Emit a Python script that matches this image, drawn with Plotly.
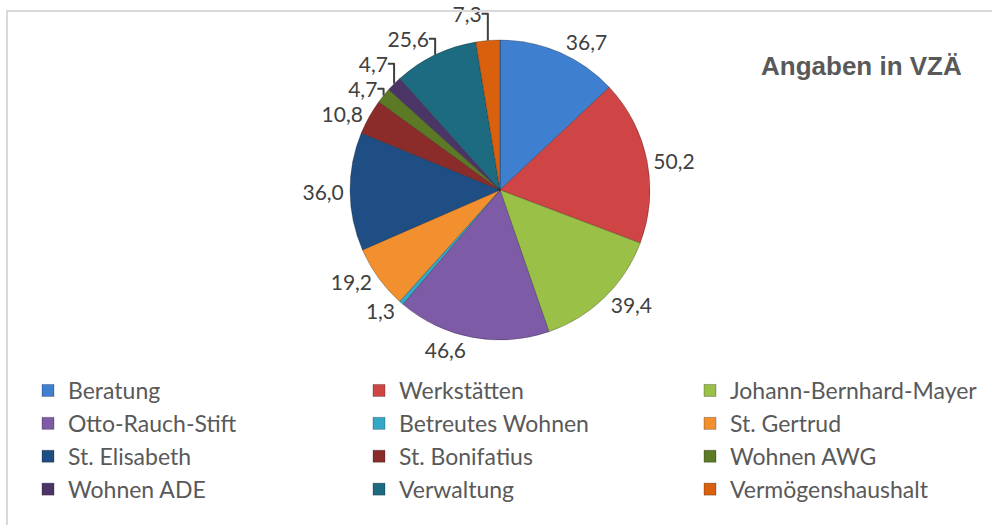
import plotly.graph_objects as go

labels = ["Beratung", "Werkstätten", "Johann-Bernhard-Mayer", "Otto-Rauch-Stift",
          "Betreutes Wohnen", "St. Gertrud", "St. Elisabeth", "St. Bonifatius",
          "Wohnen AWG", "Wohnen ADE", "Verwaltung", "Vermögenshaushalt"]
values = [36.7, 50.2, 39.4, 46.6, 1.3, 19.2, 36.0, 10.8, 4.7, 4.7, 25.6, 7.3]
colors = ["#3f7fcf", "#cf4545", "#9bc047", "#7d5ba6", "#33a9c7", "#f2902f",
          "#1f4e85", "#8b2b2a", "#5c7a25", "#4b3566", "#1d6b80", "#d9600c"]
title_text = "Angaben in VZÄ"

W, H = 992, 525
cx, cy, h = 500, 190, 150

fig = go.Figure(go.Pie(
    labels=labels, values=values, sort=False, direction="clockwise", rotation=0,
    marker=dict(colors=colors, line=dict(color="rgba(0,0,0,0.25)", width=1)),
    texttemplate="%{value:.1f}", textposition="outside",
    textfont=dict(family="Lato", size=21, color="#404040"),
    domain=dict(x=[(cx - h) / W, (cx + h) / W], y=[1 - (cy + h) / H, 1 - (cy - h) / H]),
    hoverinfo="label+value",
))

fig.update_layout(
    width=W, height=H, separators=",.",
    margin=dict(l=0, r=0, t=0, b=0, autoexpand=False),
    paper_bgcolor="white", plot_bgcolor="white",
    font=dict(family="Lato", color="#595959"),
    legend=dict(orientation="h", x=28 / W, xanchor="left", y=1 - 369 / H, yanchor="top",
                entrywidth=286, entrywidthmode="pixels",
                font=dict(family="Lato", size=23, color="#595959"),
                traceorder="normal"),
    annotations=[dict(text="<b>" + title_text + "</b>", x=861 / W, y=1 - 66 / H,
                      xref="paper", yref="paper", showarrow=False,
                      xanchor="center", yanchor="middle",
                      font=dict(family="Liberation Sans", size=26, color="#595959"))],
    shapes=[dict(type="line", xref="paper", yref="paper", x0=6 / W, x1=1, y0=1 - 11 / H, y1=1 - 11 / H,
                 line=dict(color="#d9d9d9", width=2)),
            dict(type="line", xref="paper", yref="paper", x0=7 / W, x1=7 / W, y0=0, y1=1 - 11 / H,
                 line=dict(color="#d9d9d9", width=2))],
)

fig.write_html("out.html", config={"displayModeBar": False},
               post_script="document.body.style.margin='0';")
